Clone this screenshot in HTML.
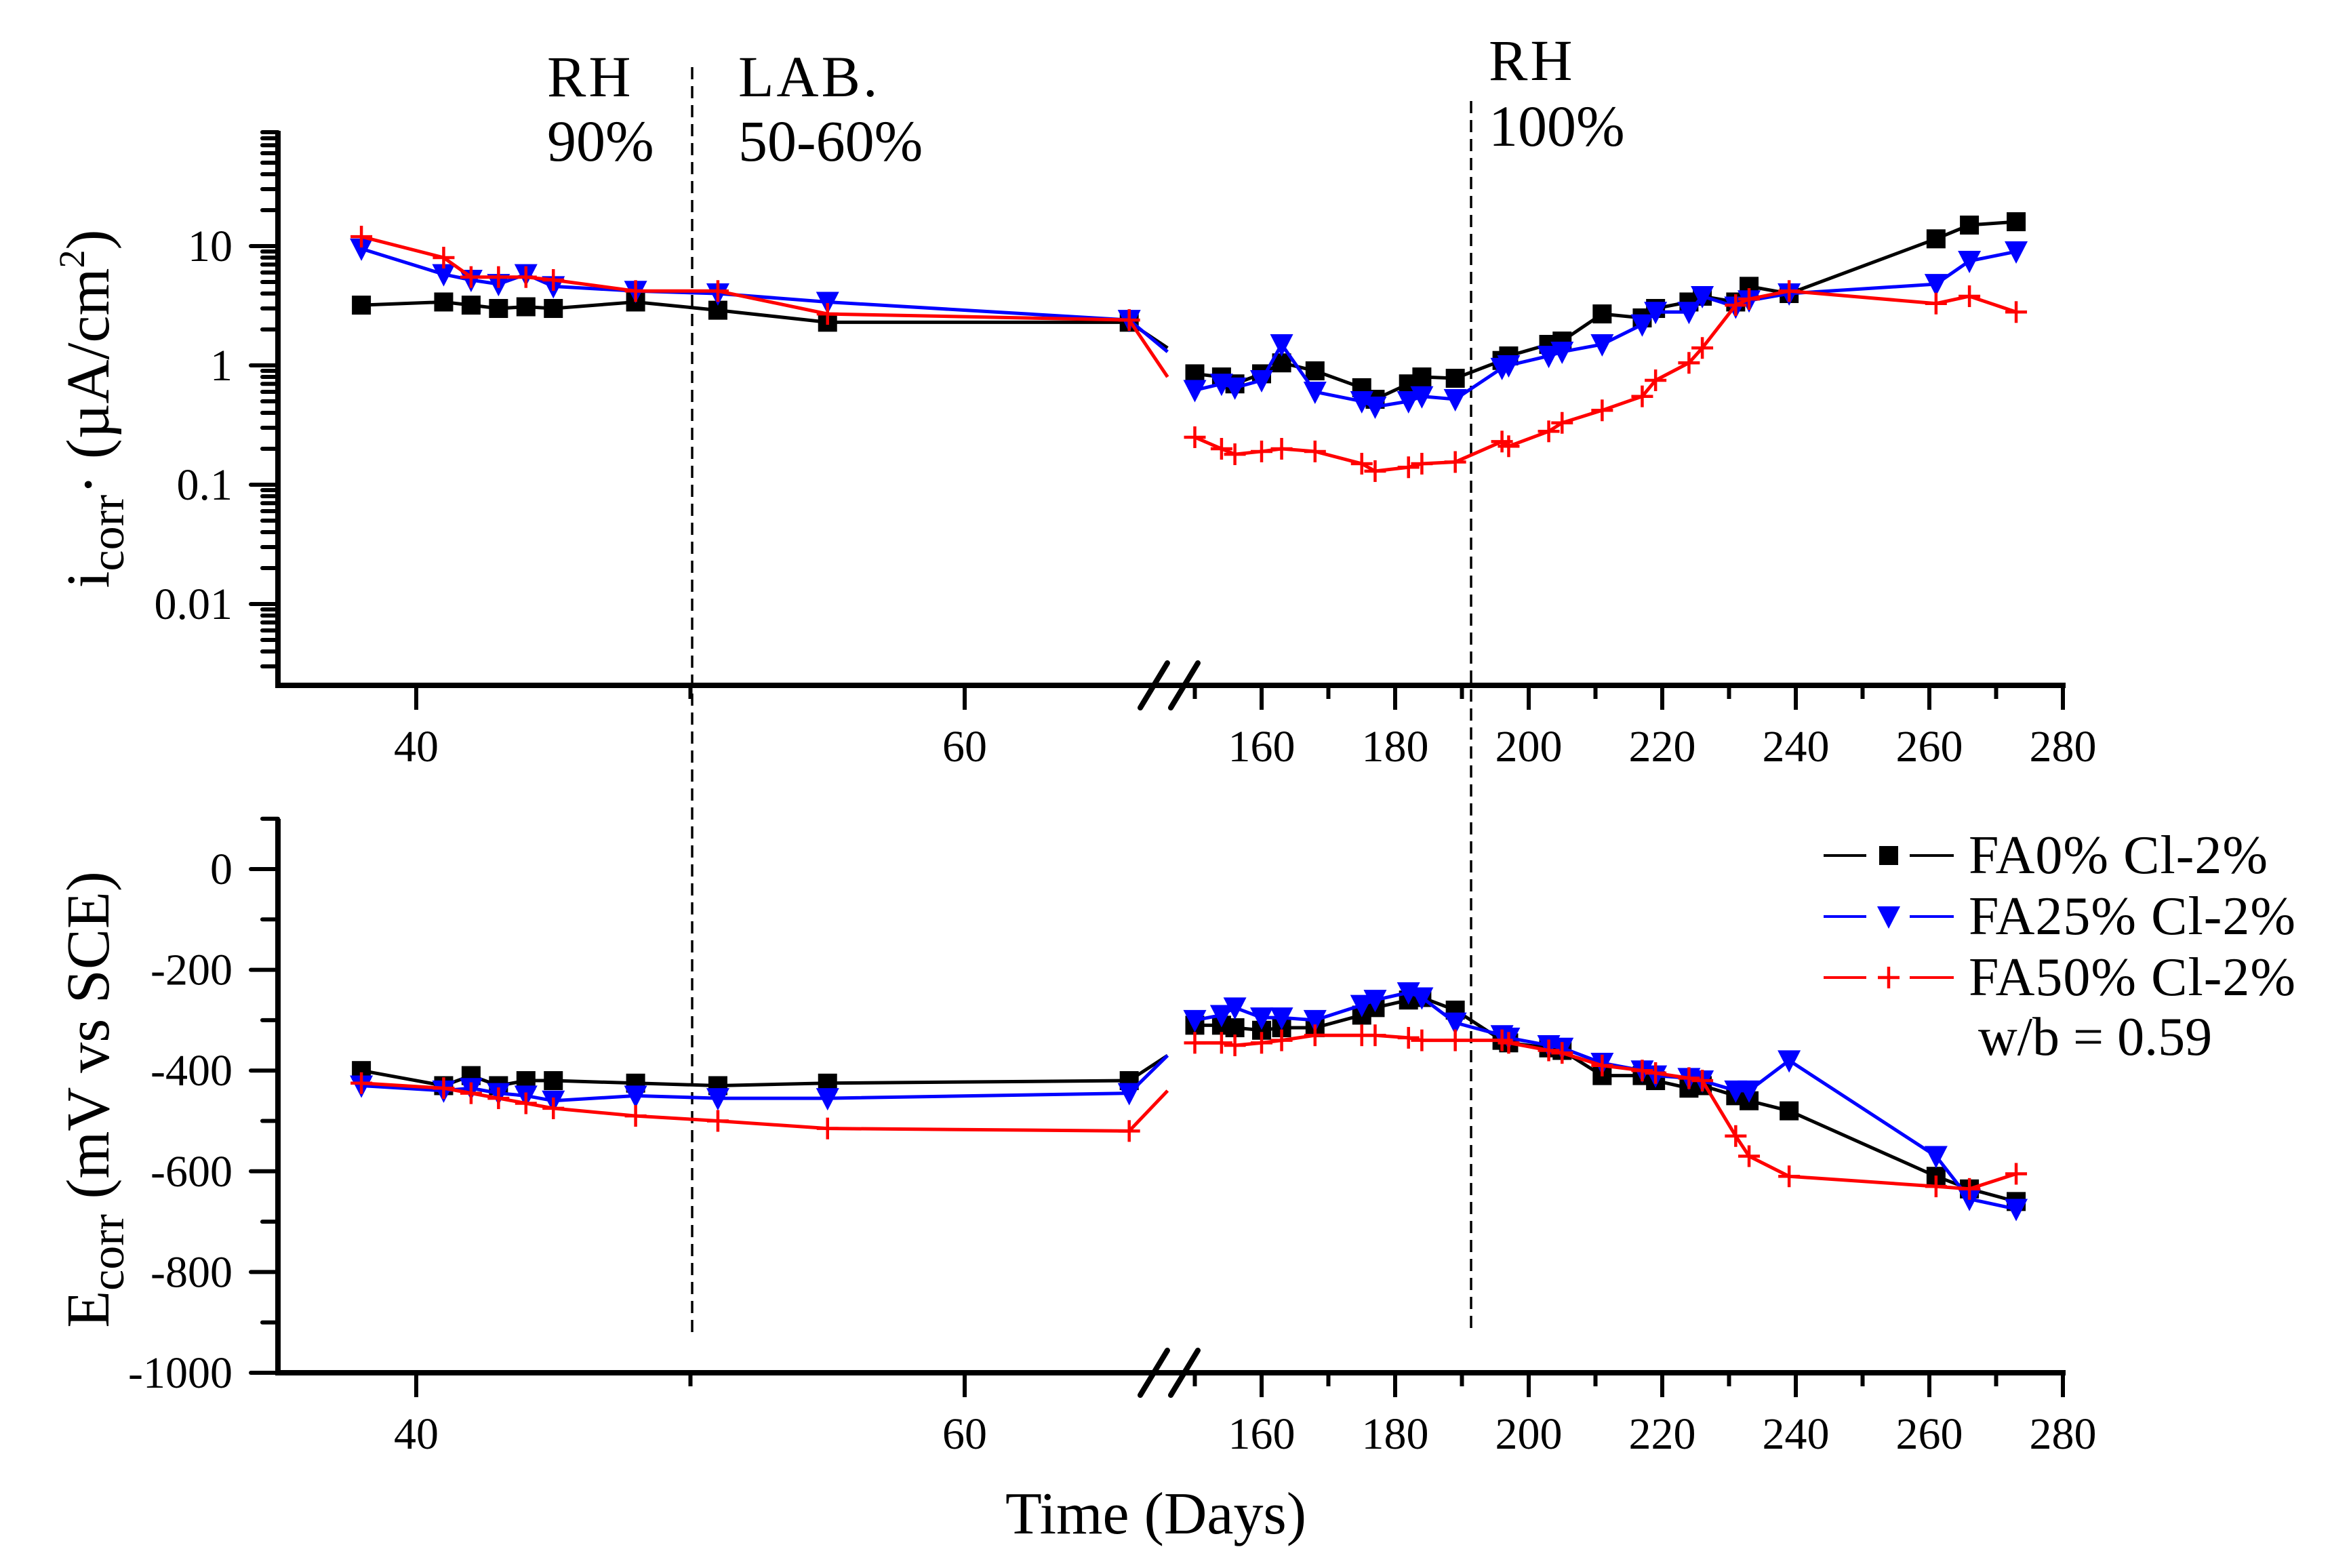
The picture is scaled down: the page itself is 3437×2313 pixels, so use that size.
<!DOCTYPE html>
<html><head><meta charset="utf-8"><style>
html,body{margin:0;padding:0;background:#fff;}
svg{display:block;font-family:"Liberation Serif",serif;}
</style></head><body>
<svg id="chart" width="3437" height="2313" viewBox="0 0 3437 2313" xmlns="http://www.w3.org/2000/svg">
<g id="g"></g>
</svg>
<script>
const leftDays=[38,41,42,43,44,45,48,51,55,66];
const rightDays=[150,154,156,160,163,168,175,177,182,184,189,196,197,203,205,211,217,219,224,226,231,233,239,261,266,273];
const icBlackL=[3.2,3.4,3.2,3.0,3.1,3.0,3.4,2.9,2.3,2.3];
const icBlueL=[9.5,5.8,5.2,4.8,5.8,4.6,4.2,4.0,3.4,2.4];
const icRedL=[12,8,5.5,5.5,5.5,5.2,4.2,4.2,2.7,2.4];
const icBlackR=[0.85,0.8,0.7,0.85,1.05,0.9,0.65,0.52,0.7,0.8,0.78,1.1,1.2,1.5,1.6,2.7,2.5,3.0,3.4,3.8,3.4,4.6,4.0,11.5,15,16];
const icBlueR=[0.62,0.7,0.65,0.75,1.5,0.6,0.5,0.45,0.5,0.55,0.52,0.95,1.0,1.2,1.3,1.5,2.2,2.8,2.8,3.8,3.1,3.5,4.0,4.8,7.5,9];
const icRedR=[0.25,0.2,0.18,0.19,0.2,0.19,0.15,0.13,0.14,0.15,0.155,0.23,0.21,0.28,0.33,0.42,0.55,0.75,1.05,1.4,3.2,3.6,4.2,3.3,3.8,2.8];
const icBreak=[1.4,1.3,0.8];
const eBlackL=[-400,-430,-410,-430,-420,-420,-425,-430,-425,-420];
const eBlueL=[-430,-440,-435,-445,-450,-460,-450,-455,-455,-445];
const eRedL=[-425,-435,-445,-455,-465,-475,-490,-500,-515,-520];
const eBlackR=[-310,-310,-315,-320,-315,-315,-290,-275,-260,-255,-280,-340,-345,-355,-360,-410,-410,-420,-435,-430,-450,-460,-480,-610,-635,-660];
const eBlueR=[-300,-290,-275,-295,-295,-300,-270,-260,-245,-255,-305,-330,-335,-350,-355,-385,-400,-410,-415,-420,-440,-440,-380,-570,-655,-675];
const eRedR=[-345,-345,-350,-345,-340,-330,-330,-330,-335,-340,-340,-340,-345,-360,-365,-390,-400,-405,-415,-420,-530,-570,-610,-630,-635,-605];
const eBreak=[-370,-370,-440];
const breakDay=67.4;
const xTicksL=[40,60];
const xTicksR=[160,180,200,220,240,260,280];
const logTicks=[10,1,0.1,0.01];
const logLabels=["10","1","0.1","0.01"];
const eTicks=[0,-200,-400,-600,-800,-1000];

const NS="http://www.w3.org/2000/svg";
const G=document.getElementById('g');
function el(t,a,p){const e=document.createElementNS(NS,t);for(const k in a)e.setAttribute(k,a[k]);(p||G).appendChild(e);return e;}
const AX0=410, AX1=3047;
function xL(d){return 614+(d-40)*40.45;}
function xR(d){return 1861+(d-160)*9.85;}
function yLog(v){return 539-Math.log10(v)*176;}
function yE(v){return 1282-v*0.743;}
const TOP={t:193,b:1011}, BOT={t:1208,b:2025};
const TF=66;

function axes(p,name){
  let a=el('line',{x1:AX0,y1:p.t,x2:AX0,y2:p.b+4,stroke:'#000','stroke-width':8});
  
  let b=el('line',{x1:AX0-4,y1:p.b,x2:AX1,y2:p.b,stroke:'#000','stroke-width':8});
  
  el('line',{x1:1682,y1:p.b+33,x2:1722,y2:p.b-33,stroke:'#000','stroke-width':8,'stroke-linecap':'round'});
  el('line',{x1:1727,y1:p.b+33,x2:1767,y2:p.b-33,stroke:'#000','stroke-width':8,'stroke-linecap':'round'});
  xTicksL.forEach(d=>{const x=xL(d);el('line',{x1:x,y1:p.b,x2:x,y2:p.b+36,stroke:'#000','stroke-width':6});
    const t=el('text',{x:x,y:p.b+112,'font-size':TF,'text-anchor':'middle'});t.textContent=d;
    });
  [50].forEach(d=>{const x=xL(d);el('line',{x1:x,y1:p.b,x2:x,y2:p.b+20,stroke:'#000','stroke-width':6});});
  xTicksR.forEach(d=>{const x=xR(d);el('line',{x1:x,y1:p.b,x2:x,y2:p.b+36,stroke:'#000','stroke-width':6});
    const t=el('text',{x:x,y:p.b+112,'font-size':TF,'text-anchor':'middle'});t.textContent=d;
    
    if(d<280){const xm=xR(d+10);el('line',{x1:xm,y1:p.b,x2:xm,y2:p.b+20,stroke:'#000','stroke-width':6});}});
  el('line',{x1:xR(150),y1:p.b,x2:xR(150),y2:p.b+20,stroke:'#000','stroke-width':6});
}
axes(TOP,'top');axes(BOT,'bottom');
for(let e=-3;e<=1;e++){for(let m=1;m<=9;m++){const v=m*Math.pow(10,e);const y=yLog(v);if(y<TOP.t||y>TOP.b)continue;
  el('line',{x1:AX0-(m==1?40:23),y1:y,x2:AX0,y2:y,stroke:'#000','stroke-width':6,'stroke-linecap':'round'});}}
logTicks.forEach((v,i)=>{const t=el('text',{x:343,y:yLog(v)+22,'font-size':TF,'text-anchor':'end'});t.textContent=logLabels[i];
  });
for(let v=100;v>=-1000;v-=100){const y=yE(v);el('line',{x1:AX0-(v%200==0?40:23),y1:y,x2:AX0,y2:y,stroke:'#000','stroke-width':6,'stroke-linecap':'round'});}
eTicks.forEach(v=>{const t=el('text',{x:343,y:yE(v)+22,'font-size':TF,'text-anchor':'end'});t.textContent=v;
  });

[[1021,99],[2170,149]].forEach(([x,y])=>{const l=el('line',{x1:x,y1:y,x2:x,y2:1968,stroke:'#000','stroke-width':3.5,'stroke-dasharray':'18 10'});
  });

const colors=['#000','#0000ff','#ff0000'];
const names=['fa0','fa25','fa50'];
function marker(type,x,y,c,parent){
  if(type==0) el('rect',{x:x-14,y:y-14,width:28,height:28,fill:c},parent);
  else if(type==1) el('polygon',{points:`${x-17},${y-15} ${x+17},${y-15} ${x},${y+18}`,fill:c},parent);
  else {el('line',{x1:x-16,y1:y,x2:x+16,y2:y,stroke:c,'stroke-width':4.5},parent);el('line',{x1:x,y1:y-16,x2:x,y2:y+16,stroke:c,'stroke-width':4.5},parent);}
}
function series(i,L,R,brk,yf,panel){
  const g=el('g',{});
  
  const pl=L.map((v,k)=>xL(leftDays[k])+','+yf(v));pl.push((xL(breakDay))+','+yf(brk[i]));
  el('polyline',{points:pl.join(' '),fill:'none',stroke:colors[i],'stroke-width':5},g);
  const pr=R.map((v,k)=>xR(rightDays[k])+','+yf(v));
  el('polyline',{points:pr.join(' '),fill:'none',stroke:colors[i],'stroke-width':5},g);
  L.forEach((v,k)=>marker(i,xL(leftDays[k]),yf(v),colors[i],g));
  R.forEach((v,k)=>marker(i,xR(rightDays[k]),yf(v),colors[i],g));
}
series(0,icBlackL,icBlackR,icBreak,yLog,'icorr');series(1,icBlueL,icBlueR,icBreak,yLog,'icorr');series(2,icRedL,icRedR,icBreak,yLog,'icorr');
series(0,eBlackL,eBlackR,eBreak,yE,'ecorr');series(1,eBlueL,eBlueR,eBreak,yE,'ecorr');series(2,eRedL,eRedR,eBreak,yE,'ecorr');

function txt(s,x,y,size,name,anchor){const t=el('text',{x:x,y:y,'font-size':size,'text-anchor':anchor||'start'});t.textContent=s;
  return t;}
txt('RH',807,142,86,'annotation-rh90').setAttribute('letter-spacing','4');
txt('90%',807,237,86,'annotation-rh90');
txt('LAB.',1089,142,86,'annotation-lab').setAttribute('letter-spacing','4');
txt('50-60%',1089,237,86,'annotation-lab');
txt('RH',2196,118,86,'annotation-rh100').setAttribute('letter-spacing','4');
txt('100%',2196,215,86,'annotation-rh100');
txt('Time (Days)',1705,2262,88,'x-axis-title','middle');
let t1=el('text',{x:0,y:0,'font-size':90,'text-anchor':'middle',transform:'translate(160,603) rotate(-90)'});

t1.innerHTML='i<tspan font-size="70" dy="22">corr</tspan><tspan dy="-22">· (µA/cm</tspan><tspan font-size="54" dy="-36">2</tspan><tspan dy="36">)</tspan>';
let t2=el('text',{x:0,y:0,'font-size':90,'text-anchor':'middle',transform:'translate(160,1622) rotate(-90)'});

t2.innerHTML='E<tspan font-size="70" dy="22">corr</tspan><tspan dy="-22"> (mV vs  SCE)</tspan>';

const legLabels=['FA0% Cl-2%','FA25% Cl-2%','FA50% Cl-2%'];
const legY=[1262,1352,1442];
legLabels.forEach((s,i)=>{const g=el('g',{});
  el('line',{x1:2690,y1:legY[i],x2:2753,y2:legY[i],stroke:colors[i],'stroke-width':4},g);
  el('line',{x1:2817,y1:legY[i],x2:2882,y2:legY[i],stroke:colors[i],'stroke-width':4},g);
  marker(i,2786,legY[i],colors[i],g);
  const t=el('text',{x:2904,y:legY[i]+26,'font-size':80,textLength:(i==0?441:482),lengthAdjust:'spacing'},g);t.textContent=s;});
txt('w/b = 0.59',2918,1556,80,'legend-note');
</script>
</body></html>
